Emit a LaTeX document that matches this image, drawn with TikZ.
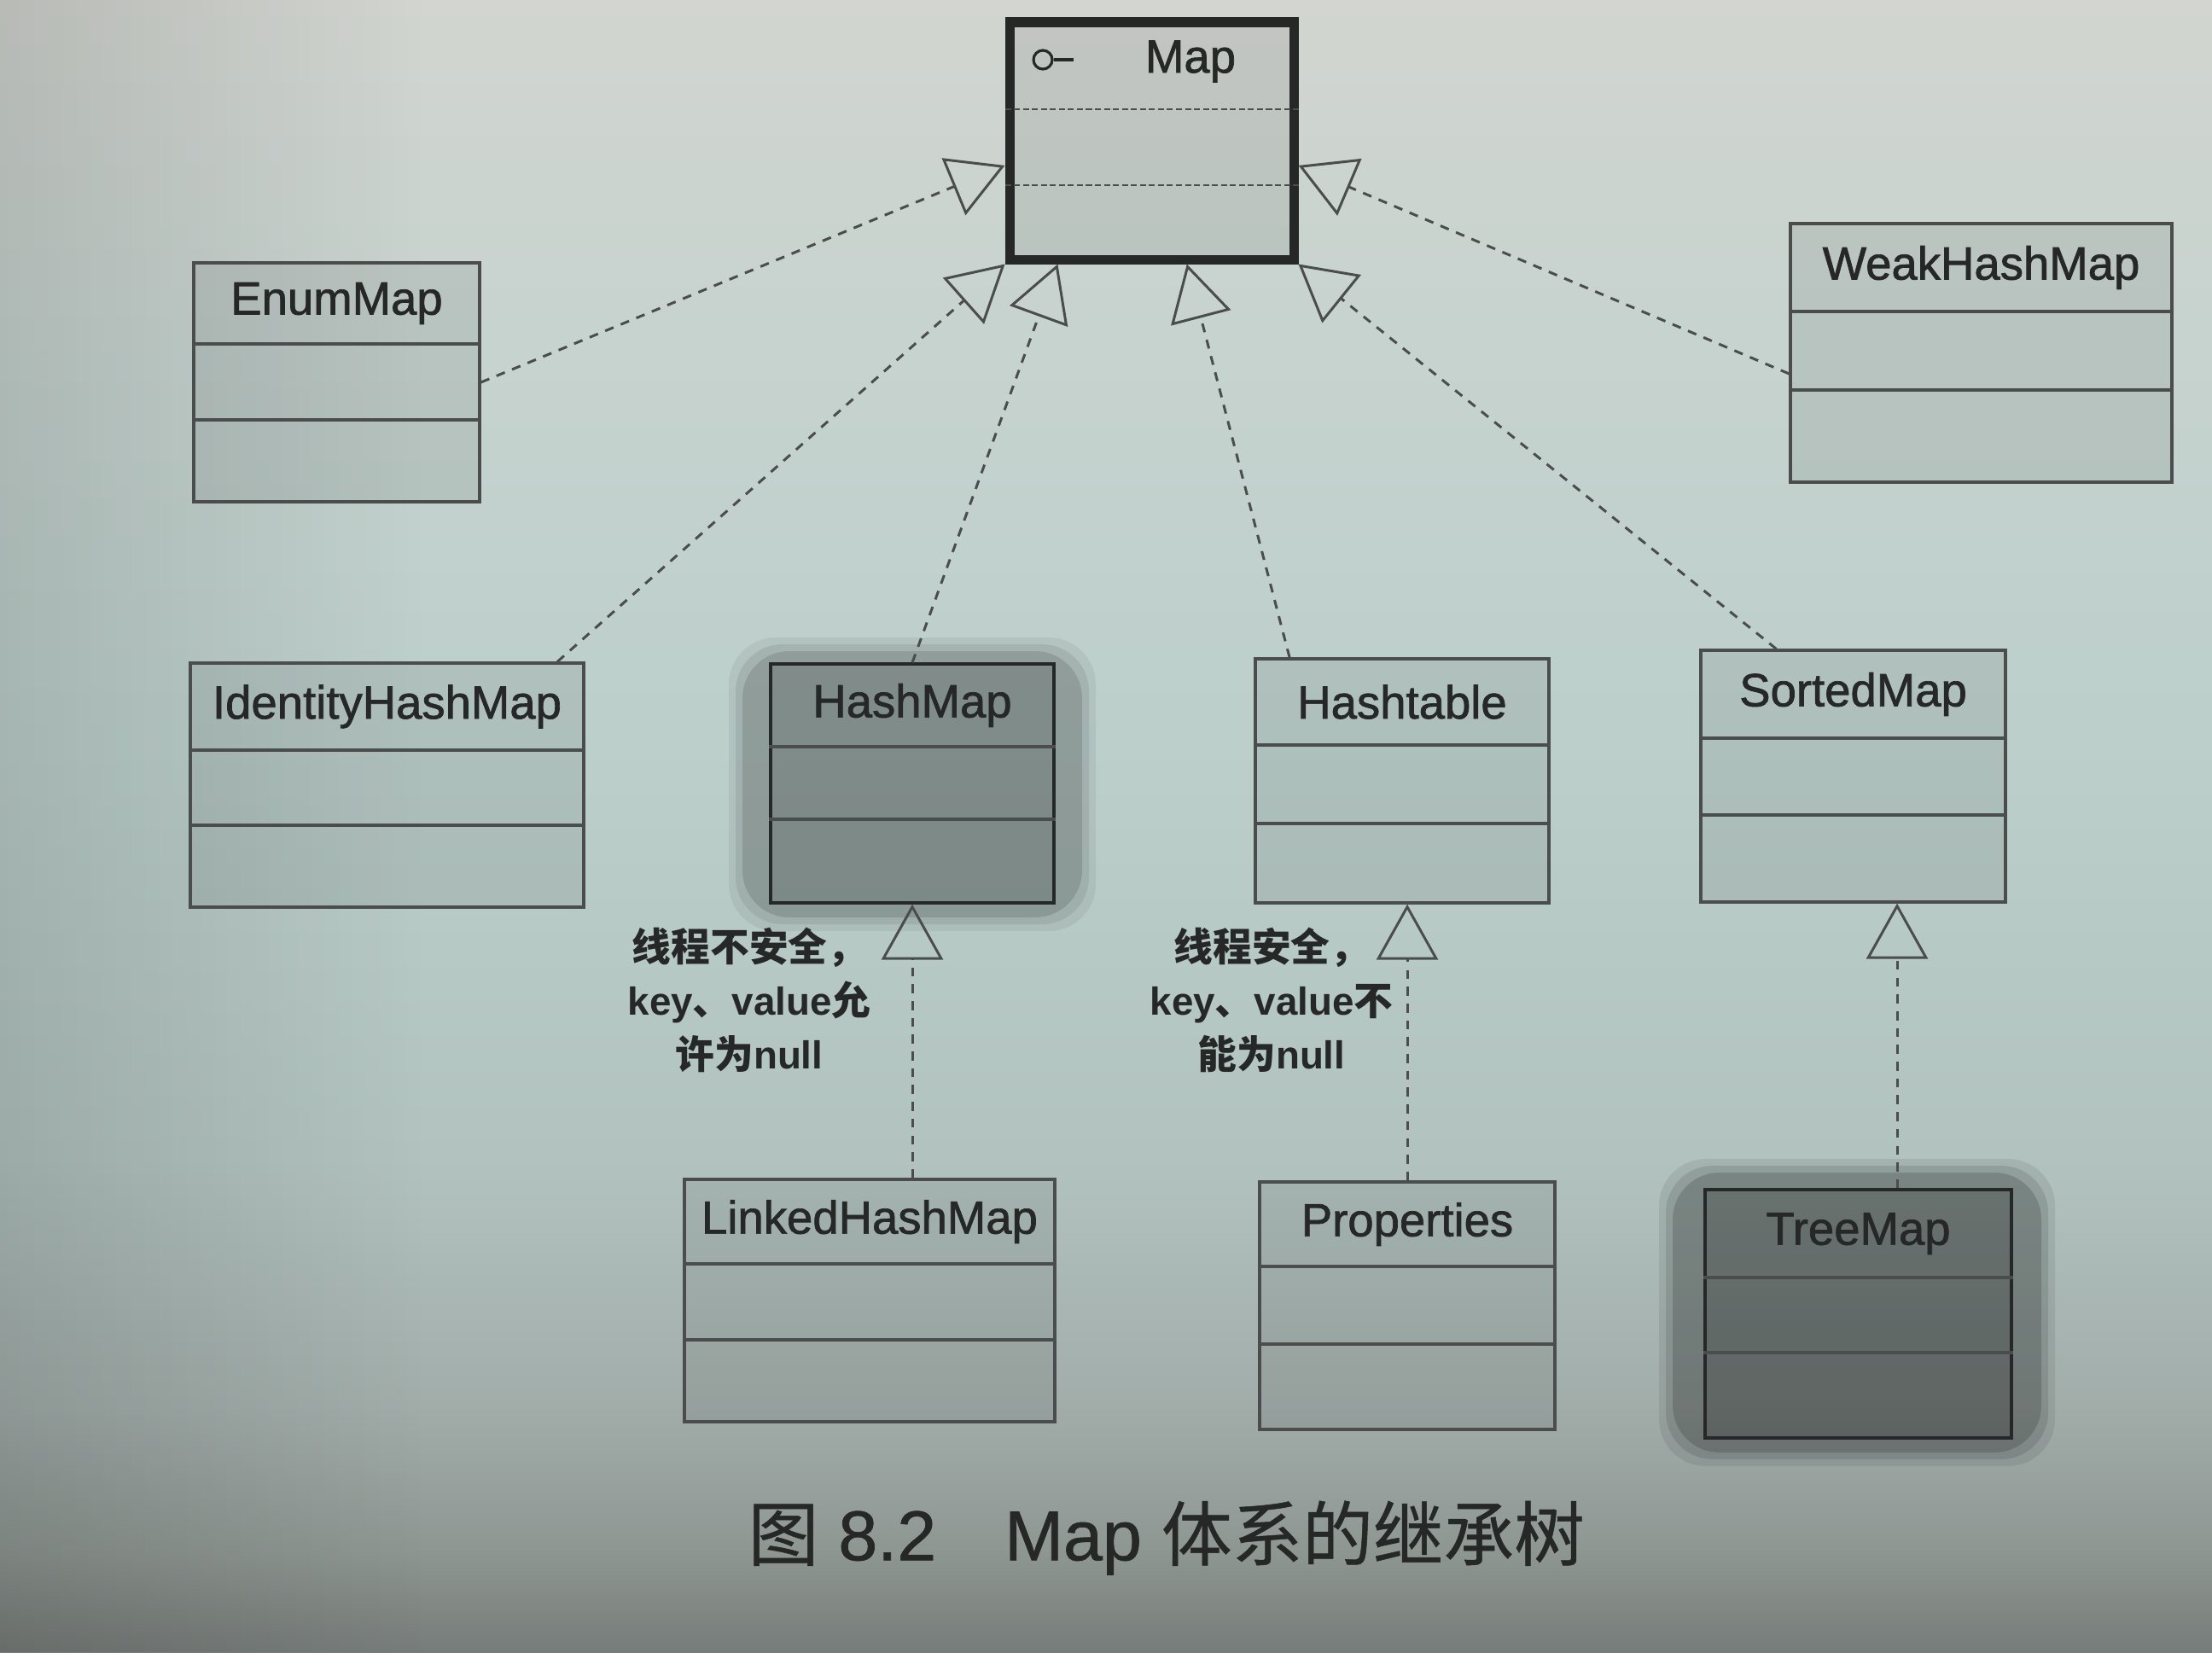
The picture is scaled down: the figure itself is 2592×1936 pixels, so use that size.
\documentclass[tikz,border=0pt]{standalone}
\usepackage{fontspec}
\setmainfont{Liberation Sans}
\newfontfamily\cjk{Noto Sans CJK SC}
\newfontfamily\namefont{Liberation Sans}[FakeBold=1.3]
\newfontfamily\capfont{Liberation Sans}[FakeBold=0.8]
\newfontfamily\capcjk{Noto Sans CJK SC}[FakeBold=0.6]
\newcommand{\zh}[1]{{\cjk #1}}
\newcommand{\zhc}[1]{{\capcjk #1}}
\usetikzlibrary{fit,calc,arrows.meta,fadings}
\definecolor{ink}{HTML}{262827}
\definecolor{linec}{HTML}{4A4D4C}
\definecolor{bgA}{HTML}{767C79}
\definecolor{bgB}{HTML}{8E9692}
\definecolor{bgC}{HTML}{A2ADAA}
\definecolor{bgD}{HTML}{B2C3BF}
\definecolor{bgE}{HTML}{BCCFCB}
\definecolor{bgF}{HTML}{C7D3CF}
\definecolor{bgG}{HTML}{D2D5D0}
\pgfdeclareverticalshading{pagebg}{100bp}{color(0bp)=(bgA); color(25bp)=(bgA); color(28bp)=(bgB); color(32.5bp)=(bgC); color(40bp)=(bgD); color(52.5bp)=(bgE); color(65bp)=(bgF); color(75bp)=(bgG); color(100bp)=(bgG)}
\newcommand{\umlbox}[9]{%
  \node[#9, fit={(#2,#3) (#4,#5)}] (#1) {};
  \draw[divline] (#1.west |- 0,#6) -- (#1.east |- 0,#6);
  \draw[divline] (#1.west |- 0,#7) -- (#1.east |- 0,#7);
  \node[nametext] (#1-name) at ({(#2+#4)/2},{(#3+#6)/2}) {#8};
}
\begin{document}
\begin{tikzpicture}[x=0.01cm,y=-0.01cm,
  classbox/.style={draw=linec, line width=0.9pt, fill=black, fill opacity=0.07, inner sep=0pt, rectangle},
  hashbox/.style={draw=ink, line width=0.9pt, fill=black, fill opacity=0.10, inner sep=0pt, rectangle},
  treebox/.style={draw=ink, line width=0.9pt, fill=black, fill opacity=0.14, inner sep=0pt, rectangle},
  divline/.style={draw=linec, line width=0.9pt},
  nametext/.style={font=\namefont\fontsize{15.5}{18}\selectfont, text=ink, inner sep=0pt},
  inh/.style={draw=linec, line width=0.85pt, dash pattern=on 3pt off 2.6pt,
    -{Triangle[open, length=0.65cm, width=0.72cm, line width=0.85pt]}},
  lab/.style={align=center, font=\fontsize{13}{18}\selectfont\bfseries, text=ink, inner sep=0pt}]
\useasboundingbox (0,0) rectangle (2592,1936);
\shade[shading=pagebg] (0,0) rectangle (2592,1936);
\fill[black, fill opacity=0.12, path fading=east] (0,0) rectangle (500,1936);

% halos behind HashMap and TreeMap
\foreach \d/\o in {16/0.06,8/0.08,0/0.12}{
  \fill[black, fill opacity=\o, rounded corners=0.55cm] ({870-\d},{763-\d}) rectangle ({1268+\d},{1075+\d});
  \fill[black, fill opacity={\o*1.3}, rounded corners=0.55cm] ({1960-\d},{1374-\d}) rectangle ({2392+\d},{1702+\d});
}

% Map interface
\node[draw=ink, line width=0.11cm, fill=black, fill opacity=0.07, inner sep=0pt, fit={(1183,26) (1516,304)}] (Map) {};
\draw[linec, line width=0.6pt, dash pattern=on 2pt off 1pt] (Map.west |- 0,128) -- (Map.east |- 0,128);
\draw[linec, line width=0.6pt, dash pattern=on 2pt off 1pt] (Map.west |- 0,217) -- (Map.east |- 0,217);
\node[circle, draw=ink, line width=0.9pt, minimum size=0.22cm, inner sep=0pt] (icon) at (1222,70) {};
\coordinate (iconend) at (1258,70);
\draw[ink, line width=0.9pt] (icon.east) -- (iconend);
\node[nametext] (Map-name) at (1395,72) {Map};

% classes
\umlbox{EnumMap}{227}{308}{562}{588}{403}{492}{EnumMap}{classbox}
\umlbox{WeakHashMap}{2098}{262}{2545}{565}{365}{457}{WeakHashMap}{classbox}
\umlbox{IdentityHashMap}{223}{777}{684}{1063}{879}{967}{IdentityHashMap}{classbox}
\umlbox{HashMap}{903}{778}{1235}{1058}{875}{960}{HashMap}{hashbox}
\umlbox{Hashtable}{1471}{772}{1815}{1058}{873}{965}{Hashtable}{classbox}
\umlbox{SortedMap}{1993}{762}{2350}{1057}{865}{955}{SortedMap}{classbox}
\umlbox{LinkedHashMap}{802}{1382}{1236}{1666}{1481}{1570}{LinkedHashMap}{classbox}
\umlbox{Properties}{1476}{1385}{1822}{1675}{1484}{1575}{Properties}{classbox}
\umlbox{TreeMap}{1998}{1394}{2357}{1685}{1497}{1585}{TreeMap}{treebox}

% inheritance connectors to Map
\draw[inh] (EnumMap.east) -- ($(Map.north west)!0.6!(Map.south west)$);
\draw[inh] ($(WeakHashMap.north west)!0.58!(WeakHashMap.south west)$) -- ($(Map.north east)!0.6!(Map.south east)$);
\draw[inh] ($(IdentityHashMap.north west)!0.93!(IdentityHashMap.north east)$) -- (Map.south west);
\draw[inh] (HashMap.north) -- ($(Map.south west)!0.18!(Map.south east)$);
\draw[inh] ($(Hashtable.north west)!0.12!(Hashtable.north east)$) -- ($(Map.south west)!0.62!(Map.south east)$);
\draw[inh] ($(SortedMap.north west)!0.25!(SortedMap.north east)$) -- (Map.south east);

% second level
\draw[inh] (LinkedHashMap.north -| HashMap.south) -- (HashMap.south);
\draw[inh] (Properties.north) -- (Properties.north |- Hashtable.south);
\coordinate (tmx) at (2223,0);
\draw[inh] (TreeMap.north -| tmx) -- (SortedMap.south -| tmx);

% notes
\node[lab] (note1) at (878,1172) {\zh{线程不安全，}\\key\zh{、}value\zh{允}\\\zh{许为}null};
\node[lab] (note2) at (1490,1172) {\zh{线程安全，}\\key\zh{、}value\zh{不}\\\zh{能为}null};

% caption
\node[anchor=west, font=\capfont\fontsize{23.5}{28}\selectfont, text=ink, inner sep=0pt] (caption) at (876,1802) {\zhc{图} 8.2\hspace{0.8cm}Map \zhc{体系的继承树}};
\end{tikzpicture}
\end{document}
